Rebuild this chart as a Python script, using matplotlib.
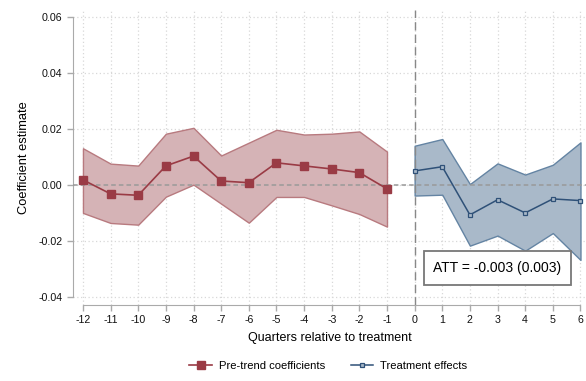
import matplotlib.pyplot as plt
import numpy as np

plt.rcParams['font.family'] = ['Liberation Sans', 'DejaVu Sans']
plt.rcParams['axes.unicode_minus'] = False

# pre-treatment event-study coefficients
pre_q = [-12, -11, -10, -9, -8, -7, -6, -5, -4, -3, -2, -1]
pre_est = [0.0017, -0.0033, -0.0038, 0.0067, 0.0102, 0.0013, 0.0007, 0.0078, 0.0067, 0.0056, 0.0043, -0.0015]
pre_hi = [0.0130, 0.0075, 0.0068, 0.0182, 0.0203, 0.0104, 0.0150, 0.0196, 0.0179, 0.0182, 0.0190, 0.0118]
pre_lo = [-0.0101, -0.0137, -0.0143, -0.0043, 0.0000, -0.0068, -0.0136, -0.0044, -0.0044, -0.0074, -0.0105, -0.0150]

# post-treatment effects
post_q = [0, 1, 2, 3, 4, 5, 6]
post_est = [0.0049, 0.0064, -0.0108, -0.0054, -0.0101, -0.0051, -0.0057]
post_hi = [0.0139, 0.0163, 0.0002, 0.0076, 0.0036, 0.0071, 0.0151]
post_lo = [-0.0039, -0.0036, -0.0218, -0.0182, -0.0236, -0.0173, -0.0269]

att_text = 'ATT = -0.003 (0.003)'

red = '#9a3b45'
blue = '#2f5178'

fig = plt.figure(figsize=(5.86, 3.81), dpi=100)
ax = fig.add_axes([0.1246, 0.1995, 0.8754, 0.7743])

ax.fill_between(pre_q, pre_lo, pre_hi, facecolor='#d5b3b6', edgecolor='#b87a7f', linewidth=1, zorder=2)
ax.plot(pre_q, pre_est, color=red, marker='s', markersize=5.5, linewidth=1.2,
        label='Pre-trend coefficients', zorder=4)

ax.fill_between(post_q, post_lo, post_hi, facecolor='#a9b9c9', edgecolor='#6484a3', linewidth=1, zorder=2)
ax.plot(post_q, post_est, color=blue, marker='s', markersize=3.5, markerfacecolor='#a9b9c9',
        markeredgecolor=blue, markeredgewidth=0.9, linewidth=1.1, label='Treatment effects', zorder=4)

ax.axhline(0, color='#999999', linestyle=(0, (3, 2)), linewidth=1.1, zorder=3)
ax.axvline(0, color='#888888', linestyle=(0, (6, 3)), linewidth=1.0, zorder=3)

ax.set_xlim(-12.36, 6.2)
ax.set_ylim(-0.043, 0.0624)
ax.set_xticks(np.arange(-12, 7))
ax.set_yticks([-0.04, -0.02, 0.0, 0.02, 0.04, 0.06])
ax.set_yticklabels(['-0.04', '-0.02', '0.00', '0.02', '0.04', '0.06'])
ax.grid(True, color='#d8d8d8', linestyle=(0, (1, 2)), linewidth=0.9, zorder=0)
ax.set_axisbelow(True)

for s in ['top', 'right']:
    ax.spines[s].set_visible(False)
ax.spines['left'].set_bounds(-0.04, 0.06)
ax.spines['bottom'].set_bounds(-12, 6)
ax.spines['left'].set_position(('data', -12.36))
ax.spines['left'].set_color('#aaaaaa')
ax.spines['bottom'].set_color('#aaaaaa')
ax.tick_params(colors='#aaaaaa', labelcolor='#111111', labelsize=7.7, length=4, width=1)

ax.set_xlabel('Quarters relative to treatment', fontsize=9, labelpad=5)
ax.set_ylabel('Coefficient estimate', fontsize=9.3, labelpad=6)

ax.text(3.0, -0.0298, att_text, fontsize=10, ha='center', va='center', zorder=6,
        bbox=dict(boxstyle='square,pad=0.7', facecolor='white', edgecolor='#777777', linewidth=1.3))

fig.legend(loc='lower center', bbox_to_anchor=(0.56, 0.0), ncol=2, frameon=False, fontsize=8.1,
           handlelength=2.0, handletextpad=0.6, columnspacing=2.3)

fig.savefig('out.png', dpi=100)
